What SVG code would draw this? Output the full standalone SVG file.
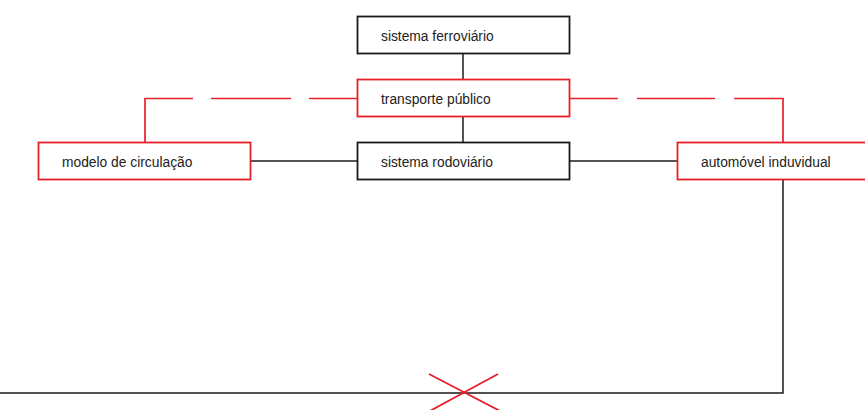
<svg xmlns="http://www.w3.org/2000/svg" width="865" height="410" viewBox="0 0 865 410">
<style>
.box{fill:#fff;stroke-width:1.8}
.blk{stroke:#1a1a1a}
.red{stroke:#e8202a}
.lbl{font-family:"Liberation Sans",Arial,sans-serif;font-size:13.8px;fill:#222}
.ln{fill:none;stroke:#1a1a1a;stroke-width:1.5}
.dash{fill:none;stroke:#e8202a;stroke-width:1.7}
</style>
<rect width="865" height="410" fill="#fff"/>
<g id="connectors">
<line class="ln" x1="463" y1="53" x2="463" y2="79"/>
<line class="ln" x1="463" y1="117" x2="463" y2="142"/>
<line class="ln" x1="250" y1="161" x2="357" y2="161"/>
<line class="ln" x1="569" y1="161" x2="677" y2="161"/>
<polyline class="ln" points="783,180 783,393 0,393"/>
<polyline class="dash" points="357,98.5 145,98.5 145,142" stroke-dasharray="48 18 80 18 200"/>
<polyline class="dash" points="569,98.5 783,98.5 783,142" stroke-dasharray="49 19 78 19 200"/>
<g stroke="#e8202a" stroke-width="1.8">
<line x1="429" y1="374" x2="502" y2="412"/>
<line x1="498" y1="374" x2="428" y2="412"/>
</g>
</g>
<g id="sistema-ferroviario">
<rect class="box blk" x="357.5" y="16.5" width="212" height="37"/>
<text class="lbl" x="381" y="41">sistema ferroviário</text>
</g>
<g id="transporte-publico">
<rect class="box red" x="357.5" y="79.5" width="212" height="37"/>
<text class="lbl" x="381" y="104">transporte público</text>
</g>
<g id="sistema-rodoviario">
<rect class="box blk" x="357.5" y="142.5" width="212" height="37"/>
<text class="lbl" x="381" y="167">sistema rodoviário</text>
</g>
<g id="modelo-de-circulacao">
<rect class="box red" x="38.5" y="142.5" width="212" height="37"/>
<text class="lbl" x="62" y="167">modelo de circulação</text>
</g>
<g id="automovel-induvidual">
<rect class="box red" x="677.5" y="142.5" width="212" height="37"/>
<text class="lbl" x="701" y="167">automóvel induvidual</text>
</g>
</svg>
